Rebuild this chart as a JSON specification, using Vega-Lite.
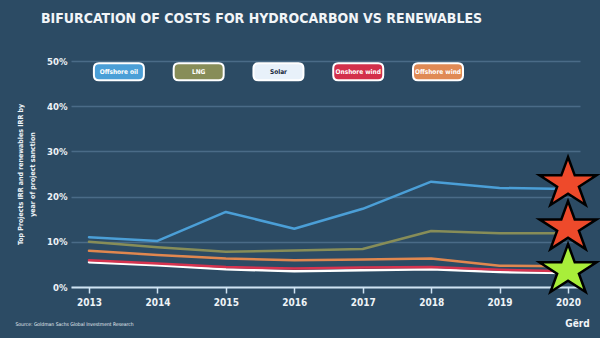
{
  "$schema": "https://vega.github.io/schema/vega-lite/v6.json",
  "autosize": {"type": "none"},
  "width": 509,
  "height": 226,
  "padding": {"left": 71, "top": 61, "right": 20, "bottom": 51},
  "background": "#2c4b64",
  "config": {
    "view": {"stroke": null},
    "font": "DejaVu Sans Condensed, Roboto, sans-serif"
  },
  "title": {
    "text": "BIFURCATION OF COSTS FOR HYDROCARBON VS RENEWABLES",
    "anchor": "middle",
    "frame": "group",
    "dx": -64,
    "offset": 30,
    "fontSize": 14,
    "fontWeight": "bold",
    "color": "#f2f5f8",
    "font": "DejaVu Sans Condensed, Roboto, sans-serif"
  },
  "datasets": {
    "irr": [
      {"year": 2013, "series": "Offshore oil", "irr": 11.0},
      {"year": 2014, "series": "Offshore oil", "irr": 10.2},
      {"year": 2015, "series": "Offshore oil", "irr": 16.6},
      {"year": 2016, "series": "Offshore oil", "irr": 12.9},
      {"year": 2017, "series": "Offshore oil", "irr": 17.3},
      {"year": 2018, "series": "Offshore oil", "irr": 23.3},
      {"year": 2019, "series": "Offshore oil", "irr": 21.9},
      {"year": 2020, "series": "Offshore oil", "irr": 21.7},
      {"year": 2013, "series": "LNG", "irr": 10.0},
      {"year": 2014, "series": "LNG", "irr": 8.8},
      {"year": 2015, "series": "LNG", "irr": 7.8},
      {"year": 2016, "series": "LNG", "irr": 8.1},
      {"year": 2017, "series": "LNG", "irr": 8.4},
      {"year": 2018, "series": "LNG", "irr": 12.4},
      {"year": 2019, "series": "LNG", "irr": 11.9},
      {"year": 2020, "series": "LNG", "irr": 11.9},
      {"year": 2013, "series": "Solar", "irr": 5.5},
      {"year": 2014, "series": "Solar", "irr": 4.8},
      {"year": 2015, "series": "Solar", "irr": 3.9},
      {"year": 2016, "series": "Solar", "irr": 3.5},
      {"year": 2017, "series": "Solar", "irr": 3.7},
      {"year": 2018, "series": "Solar", "irr": 3.9},
      {"year": 2019, "series": "Solar", "irr": 3.3},
      {"year": 2020, "series": "Solar", "irr": 3.1},
      {"year": 2013, "series": "Onshore wind", "irr": 5.9},
      {"year": 2014, "series": "Onshore wind", "irr": 5.2},
      {"year": 2015, "series": "Onshore wind", "irr": 4.4},
      {"year": 2016, "series": "Onshore wind", "irr": 4.1},
      {"year": 2017, "series": "Onshore wind", "irr": 4.3},
      {"year": 2018, "series": "Onshore wind", "irr": 4.4},
      {"year": 2019, "series": "Onshore wind", "irr": 3.8},
      {"year": 2020, "series": "Onshore wind", "irr": 3.5},
      {"year": 2013, "series": "Offshore wind", "irr": 8.0},
      {"year": 2014, "series": "Offshore wind", "irr": 7.1},
      {"year": 2015, "series": "Offshore wind", "irr": 6.3},
      {"year": 2016, "series": "Offshore wind", "irr": 5.9},
      {"year": 2017, "series": "Offshore wind", "irr": 6.1},
      {"year": 2018, "series": "Offshore wind", "irr": 6.3},
      {"year": 2019, "series": "Offshore wind", "irr": 4.7},
      {"year": 2020, "series": "Offshore wind", "irr": 4.6}
    ],
    "stars": [
      {"year": 2020, "level": 23.45, "verdict": "bad"},
      {"year": 2020, "level": 13.7, "verdict": "bad"},
      {"year": 2020, "level": 4.2, "verdict": "good"}
    ]
  },
  "layer": [
    {
      "layer": [
        {
          "data": {"name": "irr"},
          "mark": {"type": "line", "strokeWidth": 2.5, "strokeCap": "round", "strokeJoin": "round"},
          "encoding": {
            "x": {
              "field": "year",
              "type": "quantitative",
              "scale": {"domain": [2012.737, 2020.175], "nice": false, "zero": false},
              "axis": {
                "values": [2013, 2014, 2015, 2016, 2017, 2018, 2019, 2020],
                "format": "d",
                "grid": false,
                "domainColor": "#cfe3f2",
                "domainWidth": 2,
                "tickColor": "#cfe3f2",
                "tickWidth": 1.5,
                "tickSize": 6,
                "labelColor": "#eef3f7",
                "labelFontSize": 10,
                "labelFontWeight": "bold",
                "labelPadding": 4,
                "title": "Source: Goldman Sachs Global Investment Research",
                "titleFontSize": 5,
                "titleFontWeight": "normal",
                "titleColor": "#e6edf3",
                "titleAnchor": "start",
                "titleAlign": "left",
                "titleX": -56,
                "titleY": 34
              }
            },
            "y": {
              "field": "irr",
              "type": "quantitative",
              "scale": {"domain": [0, 50], "nice": false},
              "axis": {
                "values": [0, 5, 10, 15, 20, 25, 30, 35, 40, 45, 50],
                "labelExpr": "datum.value + '%'",
                "domain": false,
                "ticks": false,
                "gridColor": "#4a6b87",
                "gridWidth": 1.5,
                "labelColor": "#eef3f7",
                "labelFontSize": 9.5,
                "labelFontWeight": "bold",
                "labelPadding": 4,
                "title": ["Top Projects IRR and renewables IRR by", "year of project sanction"],
                "titleFontSize": 7,
                "titleFontWeight": "bold",
                "titleColor": "#eef3f7",
                "titleAngle": -90,
                "titleAlign": "center",
                "titleBaseline": "top",
                "titleLineHeight": 12,
                "titleX": -55,
                "titleY": 113
              }
            },
            "color": {
              "field": "series",
              "type": "nominal",
              "scale": {
                "domain": ["Offshore oil", "LNG", "Solar", "Onshore wind", "Offshore wind"],
                "range": ["#4b9fd7", "#878d58", "#ffffff", "#d6334f", "#e0874f"]
              },
              "legend": null
            },
            "order": {"field": "year"}
          }
        },
        {
          "data": {"name": "stars"},
          "mark": {
            "type": "point",
            "shape": "M0,-0.842L0.236,-0.199L1,-0.199L0.382,0.199L0.618,0.842L0,0.445L-0.618,0.842L-0.382,0.199L-1,-0.199L-0.236,-0.199Z",
            "size": 3249,
            "filled": true,
            "opacity": 1,
            "stroke": "#000000",
            "strokeWidth": 2.5,
            "strokeJoin": "miter"
          },
          "encoding": {
            "x": {"field": "year", "type": "quantitative"},
            "y": {"field": "level", "type": "quantitative"},
            "fill": {
              "field": "verdict",
              "type": "nominal",
              "scale": {"domain": ["bad", "good"], "range": ["#ee4a2b", "#a8ee3a"]},
              "legend": null
            }
          }
        }
      ]
    },
    {
      "data": {"name": "irr"},
      "transform": [{"filter": "datum.year == 2013"}],
      "mark": {
        "type": "point",
        "shape": "M-0.8,-0.34L0.8,-0.34Q1,-0.34 1,-0.14L1,0.14Q1,0.34 0.8,0.34L-0.8,0.34Q-1,0.34 -1,0.14L-1,-0.14Q-1,-0.34 -0.8,-0.34Z",
        "size": 2500,
        "filled": true,
        "opacity": 1,
        "stroke": "#ffffff",
        "strokeWidth": 2
      },
      "encoding": {
        "x": {
          "field": "series",
          "type": "nominal",
          "scale": {"type": "point", "domain": ["Offshore oil", "LNG", "Solar", "Onshore wind", "Offshore wind", "~"], "padding": 0.69, "align": 0.435},
          "axis": {
            "orient": "bottom",
            "domain": false,
            "ticks": false,
            "labels": false,
            "grid": false,
            "title": "Gërd",
            "titleFontSize": 10,
            "titleFontWeight": "bold",
            "titleColor": "#f2f5f8",
            "titleAlign": "center",
            "titleX": 506,
            "titleY": 31
          }
        },
        "y": {"datum": 47.6},
        "fill": {
          "field": "series",
          "type": "nominal",
          "scale": {
            "domain": ["Offshore oil", "LNG", "Solar", "Onshore wind", "Offshore wind"],
            "range": ["#4b9fd7", "#878d58", "#e8f1fa", "#d3304b", "#e08a55"]
          },
          "legend": null
        }
      }
    },
    {
      "data": {"name": "irr"},
      "transform": [{"filter": "datum.year == 2013"}],
      "mark": {"type": "text", "fontSize": 6.5, "fontWeight": "bold", "baseline": "middle", "align": "center"},
      "encoding": {
        "x": {
          "field": "series",
          "type": "nominal",
          "scale": {"type": "point", "domain": ["Offshore oil", "LNG", "Solar", "Onshore wind", "Offshore wind", "~"], "padding": 0.69, "align": 0.435},
          "axis": null
        },
        "y": {"datum": 47.6},
        "text": {"field": "series"},
        "color": {
          "condition": {"test": "datum.series == 'Solar'", "value": "#17283a"},
          "value": "#ffffff"
        }
      }
    }
  ],
  "resolve": {"scale": {"x": "independent", "fill": "independent"}, "axis": {"x": "independent"}}
}
